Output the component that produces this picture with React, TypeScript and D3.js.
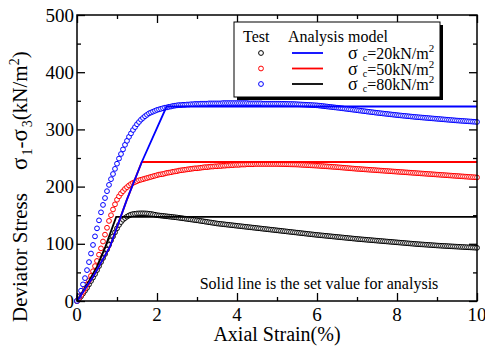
import { useEffect, useRef } from "react";
import * as d3 from "d3";

// test data, strain step 0.05% from 0 to 10%
const strainStep = 0.05;

const stress20 = [
  0, 4, 8, 13, 18, 23, 29, 35, 41, 47,
  54, 61, 68, 75, 82, 90, 98, 106, 113, 120,
  127, 133, 138, 142, 145, 147.5, 149.5, 151, 152, 152.5,
  153, 153.2, 153.3, 153.3, 153.2, 153, 152.6, 152.1, 151.5, 150.8,
  150, 149.6, 149.2, 148.8, 148.4, 148, 147.6, 147.2, 146.8, 146.4,
  146, 145.5, 145, 144.5, 144, 143.5, 143, 142.5, 142, 141.5,
  141, 140.5, 139.9, 139.4, 138.8, 138.3, 137.7, 137.2, 136.6, 136.1,
  135.5, 135.1, 134.7, 134.3, 133.9, 133.5, 133.1, 132.7, 132.3, 131.9,
  131.5, 131.1, 130.7, 130.3, 129.9, 129.5, 129.1, 128.7, 128.3, 127.9,
  127.5, 127.1, 126.7, 126.3, 125.9, 125.5, 125.1, 124.7, 124.3, 123.9,
  123.5, 123.1, 122.7, 122.3, 121.9, 121.5, 121.1, 120.7, 120.3, 119.9,
  119.5, 119.1, 118.7, 118.3, 117.9, 117.5, 117.1, 116.7, 116.3, 115.9,
  115.5, 115.2, 114.8, 114.5, 114.1, 113.8, 113.4, 113.1, 112.7, 112.4,
  112, 111.7, 111.3, 111, 110.6, 110.3, 109.9, 109.6, 109.2, 108.9,
  108.5, 108.2, 107.9, 107.6, 107.3, 107, 106.7, 106.4, 106.1, 105.8,
  105.5, 105.2, 104.9, 104.6, 104.3, 104, 103.7, 103.4, 103.1, 102.8,
  102.5, 102.2, 101.9, 101.6, 101.3, 101, 100.7, 100.4, 100.1, 99.8,
  99.5, 99.3, 99, 98.8, 98.5, 98.3, 98, 97.8, 97.5, 97.3,
  97, 96.8, 96.6, 96.4, 96.2, 96, 95.8, 95.6, 95.4, 95.2,
  95, 94.8, 94.6, 94.4, 94.2, 94, 93.8, 93.6, 93.4, 93.2, 93,
];

const stress50 = [
  0, 5, 10, 16, 22, 29, 36, 44, 52, 61,
  70, 81, 92, 104, 116, 128, 140, 150, 160, 169,
  177, 183, 188, 192, 196, 199, 202, 204.5, 206.5, 208,
  209.5, 211, 212, 213, 214, 215, 216, 217, 218, 219,
  220, 221, 221.5, 222, 223, 224, 224.5, 225, 226, 226.5,
  227, 228, 228.5, 229, 229.5, 230, 230.5, 231, 231.5, 232,
  232, 232.5, 233, 233.5, 234, 234, 234.5, 235, 235, 235.5,
  235.5, 236, 236, 236.5, 236.5, 237, 237, 237.5, 237.5, 238,
  238, 238, 238.5, 238.5, 238.5, 239, 239, 239, 239, 239.5,
  239.5, 239.5, 239.5, 239.5, 239.5, 239.5, 239.5, 239.5, 239.5, 239.5,
  239.5, 239.4, 239.3, 239.2, 239.1, 239, 238.9, 238.8, 238.7, 238.6,
  238.5, 238.3, 238.1, 237.9, 237.7, 237.5, 237.3, 237.1, 236.9, 236.7,
  236.5, 236.3, 236, 235.8, 235.5, 235.3, 235, 234.8, 234.5, 234.3,
  234, 233.7, 233.4, 233.1, 232.8, 232.5, 232.2, 231.9, 231.6, 231.3,
  231, 230.8, 230.5, 230.3, 230, 229.8, 229.5, 229.3, 229, 228.8,
  228.5, 228.3, 228, 227.8, 227.5, 227.3, 227, 226.8, 226.5, 226.3,
  226, 225.8, 225.5, 225.3, 225, 224.8, 224.5, 224.3, 224, 223.8,
  223.5, 223.3, 223, 222.8, 222.5, 222.3, 222, 221.8, 221.5, 221.3,
  221, 220.8, 220.5, 220.3, 220, 219.8, 219.5, 219.3, 219, 218.8,
  218.5, 218.3, 218, 217.8, 217.5, 217.3, 217, 216.8, 216.5, 216.3, 216,
];

const stress80 = [
  0, 8, 18, 29, 40, 54, 68, 83, 98, 113,
  127, 141, 155, 168, 180, 192, 203, 213, 222, 231,
  240, 249, 257, 265, 273, 280, 287, 293, 299, 304,
  309, 313, 317, 320, 323, 325.5, 328, 329.5, 331, 332.5,
  334, 335, 336, 337, 338, 338.5, 339.5, 340, 341, 341.5,
  342, 342.5, 342.5, 343, 343, 343.5, 343.5, 344, 344, 344.5,
  344.5, 344.5, 345, 345, 345, 345, 345.5, 345.5, 345.5, 345.5,
  345.5, 345.5, 345.5, 346, 346, 346, 346, 346, 346, 346,
  346, 346, 346, 346, 346, 346, 345.5, 345.5, 345.5, 345.5,
  345.5, 345.5, 345.5, 345, 345, 345, 345, 345, 345, 345,
  345, 345, 344.9, 344.8, 344.7, 344.6, 344.5, 344.4, 344.3, 344.2,
  344, 343.8, 343.6, 343.4, 343.2, 343, 342.8, 342.6, 342.4, 342.2,
  342, 341.6, 341.2, 340.8, 340.4, 340, 339.6, 339.2, 338.8, 338.4,
  338, 337.6, 337.1, 336.7, 336.2, 335.8, 335.3, 334.9, 334.4, 334,
  333.5, 333, 332.6, 332.1, 331.7, 331.2, 330.8, 330.3, 329.9, 329.4,
  329, 328.6, 328.2, 327.8, 327.4, 327, 326.6, 326.2, 325.8, 325.4,
  325, 324.6, 324.3, 323.9, 323.6, 323.2, 322.9, 322.5, 322.2, 321.8,
  321.5, 321.2, 320.9, 320.6, 320.3, 320, 319.7, 319.4, 319.1, 318.8,
  318.5, 318.2, 317.9, 317.6, 317.3, 317, 316.7, 316.4, 316.1, 315.8,
  315.5, 315.3, 315, 314.8, 314.5, 314.3, 314, 313.8, 313.5, 313.3, 313,
];

// analysis model (set values)
const model20Strain = [0, 0.3, 0.5, 0.71, 0.98, 10];
const model20Stress = [0, 35, 60, 95, 147, 147];
const model50Strain = [0, 0.4, 0.825, 1.24, 1.62, 10];
const model50Stress = [0, 42, 95, 176, 243, 243];
const model80Strain = [0, 0.4, 0.825, 1.24, 1.62, 2.24, 10];
const model80Stress = [0, 42, 95, 176, 243, 340, 340];

const confining = [20, 50, 80];
const testColors = ["#000000", "#ff0000", "#0000ff"];
const legendLineColors = ["#0000ff", "#ff0000", "#000000"];

const xTicks = [0, 2, 4, 6, 8, 10];
const xMinor = [1, 3, 5, 7, 9];
const yTicks = [0, 100, 200, 300, 400, 500];
const yMinor = [50, 150, 250, 350, 450];

const font = "'Liberation Serif', 'Times New Roman', serif";

const App = () => {
  const svgRef = useRef(null);

  useEffect(() => {
    const svg = d3.select(svgRef.current);
    svg.selectAll("*").remove();

    const x = d3.scaleLinear().domain([0, 10]).range([77, 477]);
    const y = d3.scaleLinear().domain([0, 500]).range([301, 15]);

    const plot = svg.append("g");

    // test points
    const tests = [stress20, stress50, stress80];
    tests.forEach((vals, k) => {
      plot
        .append("g")
        .selectAll("circle")
        .data(vals)
        .join("circle")
        .attr("cx", (d, i) => x(i * strainStep))
        .attr("cy", (d) => y(d))
        .attr("r", 2.4)
        .attr("fill", "white")
        .attr("stroke", testColors[k])
        .attr("stroke-width", 1);
    });

    // model lines
    const models = [
      [model20Strain, model20Stress, "#000000"],
      [model50Strain, model50Stress, "#ff0000"],
      [model80Strain, model80Stress, "#0000ff"],
    ];
    const line = d3
      .line()
      .x((d) => x(d[0]))
      .y((d) => y(d[1]));
    models.forEach(([sx, sy, color]) => {
      plot
        .append("path")
        .attr("d", line(sx.map((v, i) => [v, sy[i]])))
        .attr("fill", "none")
        .attr("stroke", color)
        .attr("stroke-width", 1.8);
    });

    // frame
    svg
      .append("rect")
      .attr("x", 77)
      .attr("y", 15)
      .attr("width", 400)
      .attr("height", 286)
      .attr("fill", "none")
      .attr("stroke", "black")
      .attr("stroke-width", 1.5);

    // tick marks (inward, all four sides)
    const ticksOnly = (g) => {
      g.select(".domain").remove();
      g.selectAll("text").remove();
      g.selectAll("line").attr("stroke-width", 1.3);
    };
    const axes = [
      [d3.axisBottom(x), xTicks, 8, "translate(0,301)"],
      [d3.axisBottom(x), xMinor, 4, "translate(0,301)"],
      [d3.axisTop(x), xTicks, 8, "translate(0,15)"],
      [d3.axisTop(x), xMinor, 4, "translate(0,15)"],
      [d3.axisLeft(y), yTicks, 8, "translate(77,0)"],
      [d3.axisLeft(y), yMinor, 4, "translate(77,0)"],
      [d3.axisRight(y), yTicks, 8, "translate(477,0)"],
      [d3.axisRight(y), yMinor, 4, "translate(477,0)"],
    ];
    axes.forEach(([axis, vals, len, tr]) => {
      svg
        .append("g")
        .attr("transform", tr)
        .call(axis.tickValues(vals).tickSize(-len))
        .call(ticksOnly);
    });

    // tick labels
    svg
      .append("g")
      .selectAll("text")
      .data(xTicks)
      .join("text")
      .attr("x", (d) => x(d))
      .attr("y", 321)
      .attr("text-anchor", "middle")
      .attr("font-family", font)
      .attr("font-size", 19)
      .text((d) => d);
    svg
      .append("g")
      .selectAll("text")
      .data(yTicks)
      .join("text")
      .attr("x", 74)
      .attr("y", (d) => y(d) + 6.5)
      .attr("text-anchor", "end")
      .attr("font-family", font)
      .attr("font-size", 19)
      .text((d) => d);

    // axis titles
    svg
      .append("text")
      .attr("x", 277)
      .attr("y", 341)
      .attr("text-anchor", "middle")
      .attr("font-family", font)
      .attr("font-size", 20)
      .text("Axial Strain(%)");

    const yTitle = svg.append("g").attr("transform", "translate(27,322) rotate(-90)");
    yTitle
      .append("text")
      .attr("x", 0)
      .attr("y", 0)
      .attr("font-family", font)
      .attr("font-size", 21)
      .text("Deviator  Stress");
    const ys = yTitle
      .append("text")
      .attr("x", 152)
      .attr("y", 0)
      .attr("font-family", font)
      .attr("font-size", 21);
    ys.append("tspan").attr("font-size", 23).text("σ");
    ys.append("tspan").attr("dx", 2).attr("dy", 5).attr("font-size", 14).text("1");
    ys.append("tspan").attr("dy", -5).text("-");
    ys.append("tspan").attr("font-size", 23).text("σ");
    ys.append("tspan").attr("dx", 2).attr("dy", 5).attr("font-size", 14).text("3");
    ys.append("tspan").attr("dy", -5).text("(kN/m");
    ys.append("tspan").attr("dy", -8).attr("font-size", 14).text("2");
    ys.append("tspan").attr("dy", 8).text(")");

    // note
    svg
      .append("text")
      .attr("x", 319)
      .attr("y", 289)
      .attr("text-anchor", "middle")
      .attr("font-family", font)
      .attr("font-size", 16)
      .text("Solid line is the set value for analysis");

    // legend
    const lg = svg.append("g");
    lg.append("rect")
      .attr("x", 237)
      .attr("y", 25)
      .attr("width", 206)
      .attr("height", 75)
      .attr("fill", "black");
    lg.append("rect")
      .attr("x", 234)
      .attr("y", 22)
      .attr("width", 206)
      .attr("height", 75)
      .attr("fill", "white")
      .attr("stroke", "black")
      .attr("stroke-width", 1);
    lg.append("text")
      .attr("x", 243)
      .attr("y", 42)
      .attr("font-family", font)
      .attr("font-size", 16)
      .text("Test");
    lg.append("text")
      .attr("x", 288)
      .attr("y", 42)
      .attr("font-family", font)
      .attr("font-size", 16)
      .text("Analysis model");

    confining.forEach((p, i) => {
      const cy = 53 + i * 15.5;
      lg.append("circle")
        .attr("cx", 261)
        .attr("cy", cy)
        .attr("r", 2.4)
        .attr("fill", "white")
        .attr("stroke", testColors[i])
        .attr("stroke-width", 1);
      lg.append("line")
        .attr("x1", 292)
        .attr("x2", 323)
        .attr("y1", cy)
        .attr("y2", cy)
        .attr("stroke", legendLineColors[i])
        .attr("stroke-width", 1.8);
      const t = lg
        .append("text")
        .attr("x", 348)
        .attr("y", cy + 6)
        .attr("font-family", font)
        .attr("font-size", 16);
      t.append("tspan").attr("font-size", 18).text("σ");
      t.append("tspan").attr("dx", 5).attr("dy", 2).attr("font-size", 10).text("c");
      t.append("tspan").attr("dy", -2).text(`=${p}kN/m`);
      t.append("tspan").attr("dy", -7).attr("font-size", 11).text("2");
    });
  }, []);

  return (
    <svg
      ref={svgRef}
      width={485}
      height={350}
      style={{ position: "absolute", left: 0, top: 0, background: "white" }}
    />
  );
};

export default App;
